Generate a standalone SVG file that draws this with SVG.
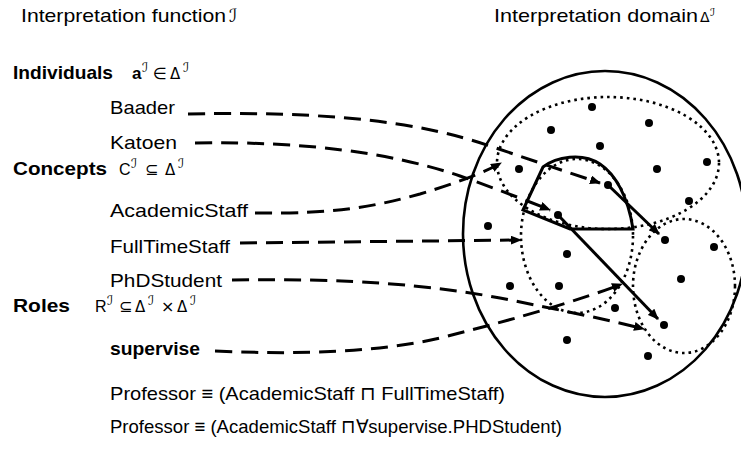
<svg xmlns="http://www.w3.org/2000/svg" width="741" height="450" viewBox="0 0 741 450">
  <style>
    text { font-family: "Liberation Sans", Arial, sans-serif; fill: #000; }
    .lbl { font-size: 19px; }
    .hd { font-size: 19px; font-weight: bold; }
    .sym { font-family: "DejaVu Sans", "Liberation Sans", sans-serif; font-size: 16px; }
    .dl { font-family: "DejaVu Sans", "Liberation Sans", sans-serif; font-size: 15px; }
    .scr { font-family: "DejaVu Serif", "DejaVu Sans", serif; font-style: italic; font-size: 13px; }
    .dash { fill: none; stroke: #000; stroke-width: 3; stroke-dasharray: 17 9; }
    .rel { fill: none; stroke: #000; stroke-width: 3; }
    .dots { fill: none; stroke: #000; stroke-width: 2.6; stroke-dasharray: 2.6 4; }
    .pt { fill: #000; }
  </style>
  <defs>
    <marker id="head" markerUnits="userSpaceOnUse" markerWidth="11" markerHeight="9" refX="10" refY="4.5" orient="auto">
      <path d="M0,0 L11,4.5 L0,9 z" fill="#000"/>
    </marker>
  </defs>

  <!-- headings -->
  <g id="title-function">
    <text class="lbl" x="21" y="21.5" textLength="205" lengthAdjust="spacingAndGlyphs">Interpretation function</text>
    <text class="scr" x="229" y="21.5" style="font-size:18px">ℐ</text>
  </g>
  <g id="title-domain">
    <text class="lbl" x="494" y="22" textLength="204" lengthAdjust="spacingAndGlyphs">Interpretation domain</text>
    <text class="dl" x="700" y="22" style="font-size:14px">Δ</text>
    <text class="scr" x="710" y="16" style="font-size:11px">ℐ</text>
  </g>

  <!-- section headers with their set-theoretic readings -->
  <g id="individuals">
    <text class="hd" x="13" y="79" textLength="100" lengthAdjust="spacingAndGlyphs">Individuals</text>
    <text class="hd" x="132" y="79" style="font-size:17px">a</text>
    <text class="scr" x="142" y="72">ℐ</text>
    <text class="sym" x="153" y="79">∈</text>
    <text class="dl" x="170" y="79">Δ</text>
    <text class="scr" x="183" y="72">ℐ</text>
  </g>
  <g id="concepts">
    <text class="hd" x="13" y="175" textLength="94" lengthAdjust="spacingAndGlyphs">Concepts</text>
    <text class="lbl" x="119" y="175" style="font-size:16px">C</text>
    <text class="scr" x="131" y="168">ℐ</text>
    <text class="sym" x="145" y="175">⊆</text>
    <text class="dl" x="165" y="175">Δ</text>
    <text class="scr" x="178" y="168">ℐ</text>
  </g>
  <g id="roles">
    <text class="hd" x="13" y="312" textLength="57" lengthAdjust="spacingAndGlyphs">Roles</text>
    <text class="lbl" x="95" y="312" style="font-size:16px">R</text>
    <text class="scr" x="107" y="305">ℐ</text>
    <text class="sym" x="119" y="312">⊆</text>
    <text class="dl" x="135" y="312">Δ</text>
    <text class="scr" x="148" y="305">ℐ</text>
    <text class="sym" x="161" y="312">×</text>
    <text class="dl" x="177" y="312">Δ</text>
    <text class="scr" x="190" y="305">ℐ</text>
  </g>

  <!-- names -->
  <g id="baader"><text class="lbl" x="110" y="114" textLength="65" lengthAdjust="spacingAndGlyphs">Baader</text></g>
  <g id="katoen"><text class="lbl" x="110" y="149" textLength="67" lengthAdjust="spacingAndGlyphs">Katoen</text></g>
  <g id="academic-staff"><text class="lbl" x="110" y="217" textLength="138" lengthAdjust="spacingAndGlyphs">AcademicStaff</text></g>
  <g id="full-time-staff"><text class="lbl" x="110" y="253" textLength="120" lengthAdjust="spacingAndGlyphs">FullTimeStaff</text></g>
  <g id="phd-student"><text class="lbl" x="110" y="287" textLength="112" lengthAdjust="spacingAndGlyphs">PhDStudent</text></g>
  <g id="supervise"><text class="hd" x="110" y="355" textLength="90" lengthAdjust="spacingAndGlyphs">supervise</text></g>

  <!-- definitions -->
  <g id="def-1"><text class="lbl" x="110" y="400" textLength="395" lengthAdjust="spacingAndGlyphs">Professor ≡ (AcademicStaff ⊓ FullTimeStaff)</text></g>
  <g id="def-2"><text class="lbl" x="110" y="433" textLength="452" lengthAdjust="spacingAndGlyphs">Professor ≡ (AcademicStaff ⊓∀supervise.PHDStudent)</text></g>

  <!-- domain with concept extensions -->
  <g id="domain">
    <ellipse cx="605" cy="234" rx="142" ry="163" fill="none" stroke="#000" stroke-width="2.6"/>
  </g>
  <g id="set-academic"><ellipse class="dots" cx="608" cy="163" rx="111" ry="66"/></g>
  <g id="set-fulltime"><ellipse class="dots" cx="577" cy="236" rx="56" ry="77"/></g>
  <g id="set-phd"><ellipse class="dots" cx="684" cy="286" rx="51" ry="67"/></g>
  <g id="set-professor">
    <path class="rel" d="M523,210 L543,167 C556,157 582,152 600,164 C615,174 628,196 633,229 L570,229 Z"/>
  </g>

  <g id="elements">
    <circle class="pt" cx="592" cy="107" r="4"/>
    <circle class="pt" cx="551" cy="130" r="4"/>
    <circle class="pt" cx="649" cy="123" r="4"/>
    <circle class="pt" cx="600" cy="146" r="4"/>
    <circle class="pt" cx="519" cy="169" r="4"/>
    <circle class="pt" cx="657" cy="169" r="4"/>
    <circle class="pt" cx="707" cy="162" r="4"/>
    <circle class="pt" cx="608" cy="185" r="4"/>
    <circle class="pt" cx="689" cy="201" r="4"/>
    <circle class="pt" cx="558" cy="215" r="4"/>
    <circle class="pt" cx="488" cy="226" r="4"/>
    <circle class="pt" cx="665" cy="240" r="4"/>
    <circle class="pt" cx="714" cy="247" r="4"/>
    <circle class="pt" cx="567" cy="254" r="4"/>
    <circle class="pt" cx="681" cy="279" r="4"/>
    <circle class="pt" cx="510" cy="286" r="4"/>
    <circle class="pt" cx="559" cy="286" r="4"/>
    <circle class="pt" cx="615" cy="308" r="4"/>
    <circle class="pt" cx="664" cy="325" r="4"/>
    <circle class="pt" cx="567" cy="340" r="4"/>
    <circle class="pt" cx="648" cy="356" r="4"/>
  </g>

  <!-- mappings and role pairs -->
  <g id="connectors">
    <path class="dash" marker-end="url(#head)" d="M188,114 C330,111 420,122 490,146 C540,163 570,173 600,183"/>
    <path class="dash" marker-end="url(#head)" d="M195,143 C300,141 390,152 460,176 C500,190 530,202 550,210"/>
    <path class="dash" marker-end="url(#head)" d="M255,213 C330,214 370,208 420,194 C460,182 485,172 501,163"/>
    <path class="dash" marker-end="url(#head)" d="M240,243 L521,240"/>
    <path class="dash" marker-end="url(#head)" d="M232,280 C350,278 430,285 500,298 C560,310 610,320 644,329"/>
    <path class="dash" marker-end="url(#head)" d="M215,351 C300,355 380,352 440,338 C520,318 580,300 622,284"/>
    <path class="rel" marker-end="url(#head)" d="M558,215 L658,319"/>
    <path class="rel" marker-end="url(#head)" d="M608,185 L659,234"/>
  </g>
</svg>
